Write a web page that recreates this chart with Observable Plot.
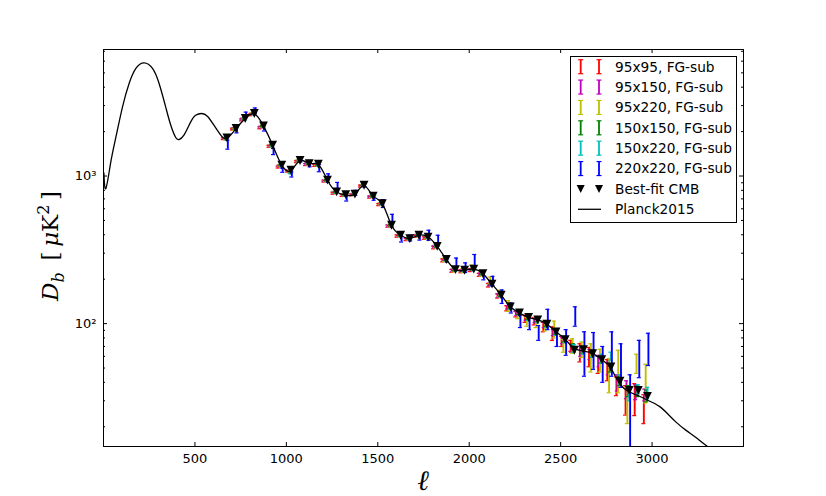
<!DOCTYPE html>
<html><head><meta charset="utf-8">
<script src="https://cdn.jsdelivr.net/npm/d3@7"></script>
<script src="https://cdn.jsdelivr.net/npm/@observablehq/plot@0.6"></script>
<style>body{margin:0;background:#fff;} svg{display:block;}</style>
</head><body><div id="chart"></div>
<script>
// ---- data ----
const ell = [675,725,775,825,875,925,975,1025,1075,1125,1175,1225,1275,1325,1375,1425,1475,1525,1575,1625,1675,1725,1775,1825,1875,1925,1975,2025,2075,2125,2175,2225,2275,2325,2375,2425,2475,2525,2575,2625,2675,2725,2775,2825,2875,2925,2975];
const bestFit = [1813,2099,2454,2653,2186,1618,1184, 1095,1274,1215,1202,937,780,747,753,866,730, 651,464,397,377,397,386,334,272,232,230, 234,218,185,156,130,118,110,106,99,88, 78,66,66.6,62.6,57,50.8,40.8,35.3,35.3,32.1];

const seriesNames = ["95x95, FG-sub","95x150, FG-sub","95x220, FG-sub","150x150, FG-sub","150x220, FG-sub","220x220, FG-sub"];
const seriesColors = ["#ff0000","#bf00bf","#bfbf00","#008000","#00bfbf","#0000ff"];
const seriesOffsets = [-20,-15,-10,-5,0,5];

const val95x95 = [1790,2080,2400,2600,2120,1590,1150, 1080,1250,1195,1180,925,765,738,745,855,720, 640,458,392,372,392,380,328,268,228,226, 230,214,182,154,127,116,108,104,95,86, 76,71,64,60,53,49,38,31,31.5,27];
const err95x95 = [25,28,35,38,32,24,17, 16,19,18,18,14,12,11,11,13,11, 10,8,7,7,7,7,7,6,5,5, 5,5,5,5,5,5,6,6,7,9, 6,6,9,9,7,8,5.5,7,7.7,6];
const val95x150 = [1800,2090,2430,2630,2150,1600,1170, 1090,1260,1205,1190,930,772,742,750,860,725, 645,460,395,375,395,384,332,270,230,228, 232,216,184,155,129,117,109,105,98,87, 77,68,65,62,56,50,40,36,34.5,33];
const err95x150 = [24,27,33,36,30,22,16, 15,18,17,17,13,11,10,10,12,10, 9,7,6,6,6,6,5,5,4,4, 4,4,4,4,3.5,3.5,3.5,3.5,4,4, 4,4,5,5,5,5,5,5,4,3];
const val95x220 = [1790,2070,2440,2640,2170,1610,1180, 1085,1265,1210,1195,932,775,745,752,862,728, 648,462,396,376,396,385,333,271,231,229, 240,218,197,160,132,115,103,102,97,92, 71,71,67,60,57,46,50,29,54,41];
const err95x220 = [30,32,38,40,35,28,20, 19,22,20,20,16,14,13,13,15,13, 11,9,8,8,8,8,7,7,7,7, 9,8,10,8,11,7,7,8,8,12, 7,8,8,13,10,12,16,8,8,12];
const val150x150 = [1810,2100,2450,2650,2180,1620,1185, 1060,1270,1215,1200,935,778,746,752,864,729, 650,463,397,377,397,386,334,272,232,230, 234,218,185,156,130,118,110,106,99,88, 78,70,66,62,57,50,41,35,35,32.5];
const err150x150 = [20,22,28,30,25,18,14, 13,15,14,14,11,9,9,9,10,9, 8,6,5,5,5,5,5,4,4,4, 4,3,3,3,3,3,3,3,3,3, 3,3,3,3,3,3,3,3,3,3];
const val150x220 = [1780,2080,2430,2640,2170,1600,1175, 1050,1265,1200,1190,930,772,744,750,862,727, 648,462,396,376,396,385,333,271,231,229, 233,217,184,155,129,117,109,105,98,87, 78,68,66,63,58,60,42,33,36,34];
const err150x220 = [28,30,36,38,33,26,19, 18,21,19,19,15,12,12,12,14,12, 10,8,7,7,7,7,6,5,5,5, 5,4,4,4,4,4,4,4,4,4, 4,4,4,3.5,4,4,3,3,2.5,3];
const val220x220 = [1635,2050,2600,2770,2130,1467,1095, 1025,1296,1215,1134,970,845,704,770,878,708, 652,500,377,380,388,398,366,273,254,240, 268,212,195,153,128,104,101,87,108,78, 76,113,66,68,55,66,55,29,60,69];
const err220x220 = [115,90,110,120,110,70,35, 40,50,60,65,65,60,27,30,35,23, 40,50,20,17,20,31,31,12,24,18, 26,14,14,16,10,10,10,10,17,8, 15,17,22,19,15,22,18,16,17,17];

const curveEll = [2,13,40,68,104,140,177,222,268,304,340,368,395,413,440,477,504,537,568,604,640, 675,725,775,825,875,925,975,1025,1075,1125,1175,1225,1275,1325,1375,1425,1475,1525,1575,1625,1675,1725,1775,1825,1875,1925,1975,2025,2075,2125,2175,2225,2275,2325,2375,2425,2475,2525,2575,2625,2675,2725, 2776,2822,2877,2931,2985,3040,3085,3131,3186,3240,3303,3400,3500];
const curveD = [1050,823,1246,1841,2940,4236,5356,5846,5356,4236,2940,2209,1824,1768,1891,2327,2583,2653,2542,2209,1900, 1800,2099,2454,2640,2186,1618,1184,1090,1274,1215, 1195,937,780,745,755,860,730,651,464,397, 377,397,386,334,272,232,230,234,218,185, 156,130,118,110,106,99,88,78,68,65, 62.6,57, 49.5,39.2,34.4,32.2,29.9,27.5,24.5,21.5,18.9,16.9,14.7,12.2,10];

const xTicks = [500,1000,1500,2000,2500,3000];
const yMajor = [100,1000];
const yMajorLabels = ["10²","10³"];
const yMinor = [20,30,40,50,60,70,80,90,200,300,400,500,600,700,800,900,2000,3000,4000,5000,6000,7000];
const bestFitName = "Best-fit CMB";
const curveName = "Planck2015";

// ---- layout ----
const W = 826, H = 496, mL = 103, mR = 83, mT = 49, mB = 50;
const innerW = W - mL - mR, innerH = H - mT - mB;

const triDown = {draw(ctx, size){const s = Math.sqrt(size/Math.PI); ctx.moveTo(-s,-s); ctx.lineTo(s,-s); ctx.lineTo(0,s); ctx.closePath();}};

const seriesVals = [val95x95,val95x150,val95x220,val150x150,val150x220,val220x220];
const seriesErrs = [err95x95,err95x150,err95x220,err150x150,err150x220,err220x220];

const marks = [];
seriesVals.forEach((vals, s) => {
  const col = seriesColors[s];
  const data = ell.map((l, i) => ({x: l + seriesOffsets[s], lo: vals[i] - seriesErrs[s][i], hi: vals[i] + seriesErrs[s][i]}));
  marks.push(Plot.ruleX(data, {x: "x", y1: "lo", y2: "hi", stroke: col, strokeWidth: 1.9, clip: true}));
  marks.push(Plot.ruleY(data, {y: "hi", x1: d => d.x - 11, x2: d => d.x + 11, stroke: col, strokeWidth: 1.2, clip: true}));
  marks.push(Plot.ruleY(data, {y: "lo", x1: d => d.x - 11, x2: d => d.x + 11, stroke: col, strokeWidth: 1.2, clip: true}));
});
const curve = curveEll.map((l, i) => ({l, d: curveD[i]}));
marks.push(Plot.line(curve, {x: "l", y: "d", curve: "natural", stroke: "black", strokeWidth: 1.3, clip: true}));
const bf = ell.map((l, i) => ({l, d: bestFit[i]}));
marks.push(Plot.dot(bf, {x: "l", y: "d", symbol: triDown, r: 4.4, fill: "black", stroke: "none"}));

// ticks (inward, on all four sides)
marks.push(Plot.tickY(yMajor, {y: d => d, insetRight: innerW - 4, stroke: "black"}));
marks.push(Plot.tickY(yMajor, {y: d => d, insetLeft: innerW - 4, stroke: "black"}));
marks.push(Plot.tickY(yMinor, {y: d => d, insetRight: innerW - 2, stroke: "black"}));
marks.push(Plot.tickY(yMinor, {y: d => d, insetLeft: innerW - 2, stroke: "black"}));
marks.push(Plot.tickX(xTicks, {x: d => d, insetTop: innerH - 4, stroke: "black"}));
marks.push(Plot.tickX(xTicks, {x: d => d, insetBottom: innerH - 4, stroke: "black"}));
marks.push(Plot.axisX(xTicks, {tickSize: 0, tickPadding: 7, fontSize: 13, label: null, tickFormat: d => String(d)}));
marks.push(Plot.axisY(yMajor, {tickSize: 0, tickPadding: 7, fontSize: 13, label: null, tickFormat: d => yMajorLabels[yMajor.indexOf(d)]}));
marks.push(Plot.frame({stroke: "black", strokeWidth: 1}));

const svg = Plot.plot({
  width: W, height: H,
  marginLeft: mL, marginRight: mR, marginTop: mT, marginBottom: mB,
  x: {domain: [0, 3500]},
  y: {type: "log", domain: [14.7, 7200]},
  style: {fontFamily: "DejaVu Sans", fontSize: "13px", color: "black", background: "white"},
  marks
});
document.getElementById("chart").appendChild(svg);

// ---- axis titles ----
const root = d3.select(svg);
const yl = root.append("text")
  .attr("transform", "translate(58,246) rotate(-90)")
  .attr("text-anchor", "middle")
  .attr("font-family", "DejaVu Serif")
  .attr("font-size", 23)
  .attr("fill", "black");
yl.append("tspan").attr("font-style", "italic").text("D");
yl.append("tspan").attr("font-style", "italic").attr("font-size", 16).attr("dy", 6).text("b");
yl.append("tspan").attr("dy", -6).text("\u2009 [\u2009");
yl.append("tspan").attr("font-style", "italic").text("μ");
yl.append("tspan").text("K");
yl.append("tspan").attr("font-size", 16).attr("dy", -9).text("2");
yl.append("tspan").attr("dy", 9).text("\u2009]");

root.append("text")
  .attr("x", mL + innerW / 2).attr("y", 490)
  .attr("text-anchor", "middle")
  .attr("font-family", "DejaVu Serif")
  .attr("font-style", "italic")
  .attr("font-size", 28)
  .attr("fill", "black")
  .text("ℓ");

// ---- legend ----
const lg = root.append("g").attr("font-family", "DejaVu Sans").attr("font-size", 13.7).attr("text-anchor", "start");
lg.append("rect").attr("x", 570.5).attr("y", 56.5).attr("width", 166).attr("height", 166)
  .attr("fill", "white").attr("stroke", "black").attr("stroke-width", 1);
const rowY = i => 66.7 + i * 20.37;
const glyphX = [580.7, 599];
seriesNames.forEach((name, i) => {
  const y = rowY(i);
  glyphX.forEach(gx => {
    lg.append("line").attr("x1", gx).attr("x2", gx).attr("y1", y - 7).attr("y2", y + 7).attr("stroke", seriesColors[i]).attr("stroke-width", 1.8);
    lg.append("line").attr("x1", gx - 2.5).attr("x2", gx + 2.5).attr("y1", y - 7).attr("y2", y - 7).attr("stroke", seriesColors[i]).attr("stroke-width", 1.2);
    lg.append("line").attr("x1", gx - 2.5).attr("x2", gx + 2.5).attr("y1", y + 7).attr("y2", y + 7).attr("stroke", seriesColors[i]).attr("stroke-width", 1.2);
  });
  lg.append("text").attr("x", 615).attr("y", y).attr("dy", "0.36em").attr("text-anchor", "start").attr("fill", "black").text(name);
});
{
  const y = rowY(6);
  glyphX.forEach(gx => {
    lg.append("path").attr("d", `M${gx-4},${y-4}L${gx+4},${y-4}L${gx},${y+4}Z`).attr("fill", "black");
  });
  lg.append("text").attr("x", 615).attr("y", y).attr("dy", "0.36em").attr("text-anchor", "start").attr("fill", "black").text(bestFitName);
  const y2 = rowY(7);
  lg.append("line").attr("x1", 578).attr("x2", 601).attr("y1", y2).attr("y2", y2).attr("stroke", "black").attr("stroke-width", 1.3);
  lg.append("text").attr("x", 615).attr("y", y2).attr("dy", "0.36em").attr("text-anchor", "start").attr("fill", "black").text(curveName);
}
</script>
</body></html>
